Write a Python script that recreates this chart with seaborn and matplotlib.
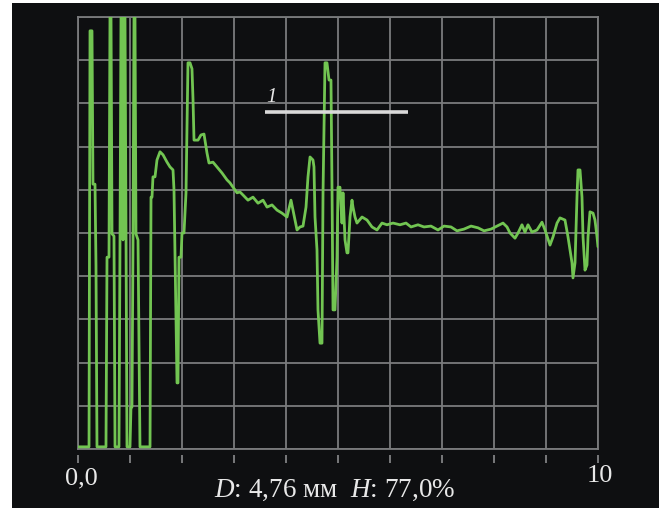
import matplotlib
matplotlib.use("Agg")
import matplotlib.pyplot as plt
from matplotlib.patches import Rectangle
import seaborn as sns
import pandas as pd

# ---- data: depth (0..10) and amplitude (%) ----
x_vals = [
    0.0, 0.212, 0.231, 0.269, 0.288, 0.327, 0.346, 0.365, 0.538, 0.558,
    0.596, 0.615, 0.635, 0.654, 0.692, 0.712, 0.788, 0.808, 0.827, 0.846,
    0.865, 0.885, 0.904, 0.923, 0.942, 1.000, 1.019, 1.038, 1.058, 1.077,
    1.096, 1.115, 1.154, 1.192, 1.385, 1.404, 1.423, 1.442, 1.481, 1.519,
    1.577, 1.635, 1.712, 1.769, 1.827, 1.846, 1.885, 1.904, 1.923, 1.942,
    1.981, 2.000, 2.038, 2.077, 2.096, 2.115, 2.154, 2.192, 2.212, 2.231,
    2.269, 2.308, 2.365, 2.423, 2.442, 2.481, 2.519, 2.596, 2.673, 2.769,
    2.865, 2.923, 2.981, 3.058, 3.115, 3.173, 3.269, 3.365, 3.462, 3.558,
    3.635, 3.731, 3.827, 3.923, 4.019, 4.096, 4.135, 4.212, 4.269, 4.327,
    4.385, 4.423, 4.462, 4.519, 4.538, 4.558, 4.596, 4.615, 4.654, 4.692,
    4.712, 4.750, 4.788, 4.827, 4.865, 4.885, 4.904, 4.942, 4.981, 5.000,
    5.038, 5.077, 5.096, 5.135, 5.173, 5.192, 5.231, 5.269, 5.288, 5.327,
    5.365, 5.462, 5.558, 5.654, 5.750, 5.846, 5.942, 6.058, 6.192, 6.308,
    6.404, 6.538, 6.654, 6.788, 6.923, 7.038, 7.173, 7.288, 7.423, 7.558,
    7.692, 7.808, 7.942, 8.058, 8.173, 8.250, 8.308, 8.404, 8.462, 8.538,
    8.596, 8.654, 8.731, 8.827, 8.923, 8.981, 9.077, 9.135, 9.212, 9.269,
    9.365, 9.423, 9.462, 9.500, 9.519, 9.558, 9.596, 9.615, 9.654, 9.692,
    9.712, 9.750, 9.788, 9.808, 9.846, 9.904, 9.942, 9.981, 10.0,
]
amp_vals = [
    0.5, 0.5, 96.8, 96.8, 61.3, 61.3, 42.4, 0.5, 0.5, 44.4,
    44.4, 100.0, 100.0, 49.8, 49.3, 0.5, 0.5, 48.4, 100.0, 100.0,
    48.4, 100.0, 100.0, 48.4, 0.5, 0.5, 9.7, 9.7, 48.4, 100.0,
    100.0, 49.8, 48.4, 0.5, 0.5, 58.3, 58.3, 63.0, 63.0, 66.9,
    68.8, 68.1, 66.4, 65.3, 64.6, 60.0, 29.2, 15.3, 15.3, 44.4,
    44.4, 50.0, 50.0, 59.3, 73.8, 89.4, 89.4, 88.0, 80.8, 71.5,
    71.5, 71.5, 72.7, 72.9, 71.5, 68.5, 66.2, 66.4, 65.3, 63.9,
    62.3, 61.6, 60.6, 59.3, 59.5, 58.8, 57.6, 58.3, 56.9, 57.6,
    56.0, 56.5, 55.3, 54.6, 53.7, 57.6, 55.3, 50.7, 51.4, 51.6,
    56.0, 63.0, 67.6, 66.9, 65.3, 53.7, 46.1, 32.2, 24.5, 24.5,
    59.3, 89.4, 89.4, 85.4, 85.4, 60.0, 32.2, 32.2, 44.4, 60.6,
    60.6, 52.3, 59.3, 48.4, 45.4, 45.4, 53.7, 57.6, 56.0, 53.7,
    52.3, 53.7, 53.0, 51.4, 50.7, 52.3, 51.9, 52.3, 51.9, 52.3,
    51.4, 51.9, 51.4, 51.6, 50.7, 51.6, 51.4, 50.5, 50.9, 51.6,
    51.2, 50.5, 50.9, 51.6, 52.3, 51.4, 50.0, 48.8, 50.0, 51.9,
    50.2, 51.9, 50.2, 50.7, 52.5, 50.7, 47.2, 49.1, 52.3, 53.5,
    53.0, 49.1, 46.1, 43.1, 39.6, 43.1, 58.3, 64.6, 64.6, 58.3,
    49.1, 41.4, 42.6, 49.1, 54.9, 54.6, 53.0, 49.1, 46.8,
]
gate_start, gate_end, gate_level = 3.596, 6.346, 78.0
gate_label = "1"
x_start_label, x_end_label = "0,0", "10"
readout = r"$\mathit{D}$: 4,76 мм  $\mathit{H}$: 77,0%"

df = pd.DataFrame({"depth": x_vals, "amp": amp_vals})

sns.set_theme(style="dark")
plt.rcParams["font.family"] = ["Liberation Serif", "DejaVu Serif"]
plt.rcParams["mathtext.fontset"] = "custom"
plt.rcParams["mathtext.it"] = "Liberation Serif:italic"
plt.rcParams["mathtext.rm"] = "Liberation Serif"

W, H = 662, 508
fig = plt.figure(figsize=(W / 100, H / 100), dpi=100)
fig.patch.set_facecolor("white")
fig.add_artist(Rectangle((12 / W, 0), 647 / W, 505 / H, transform=fig.transFigure,
                         facecolor="#0e0f11", edgecolor="none", zorder=-5))

ax = fig.add_axes([78 / W, 1 - 449 / H, 520 / W, 432 / H])
ax.set_facecolor("#0e0f11")
grid_c = "#7a7b7d"
sns.lineplot(data=df, x="depth", y="amp", ax=ax, sort=False, estimator=None,
             color="#72c552", lw=2.0, zorder=3)

ax.set_xlim(0, 10)
ax.set_ylim(0, 100)
ax.set_xticks(range(0, 11))
ax.set_yticks(range(0, 101, 10))
ax.grid(True, color=grid_c, lw=1.3)
ax.tick_params(length=0, labelbottom=False, labelleft=False)
ax.set_xlabel("")
ax.set_ylabel("")
for s in ax.spines.values():
    s.set_color(grid_c)
    s.set_linewidth(1.3)

# small tick marks below the axis
ax.vlines(range(0, 11), -0.014, -0.033, transform=ax.get_xaxis_transform(),
          color="#8a8b8d", lw=1.2, clip_on=False)

# gate line
ax.hlines(gate_level, gate_start, gate_end, color="#d9d9d9", lw=2.6, zorder=4)
ax.text(gate_start + 0.13, gate_level + 1.2, gate_label, fontsize=15, style="italic",
        color="#e6e6e6", ha="center", va="bottom")

txt_c = "#e8e8e8"
fig.text(81 / W, 1 - 484 / H, x_start_label, fontsize=19, color=txt_c,
         ha="center", va="baseline")
fig.text(600 / W, 1 - 482 / H, x_end_label, fontsize=19, color=txt_c,
         ha="center", va="baseline")
fig.text(335 / W, 1 - 497 / H, readout, fontsize=19.5, color=txt_c,
         ha="center", va="baseline")

fig.savefig("out.png", dpi=100, facecolor=fig.get_facecolor())
